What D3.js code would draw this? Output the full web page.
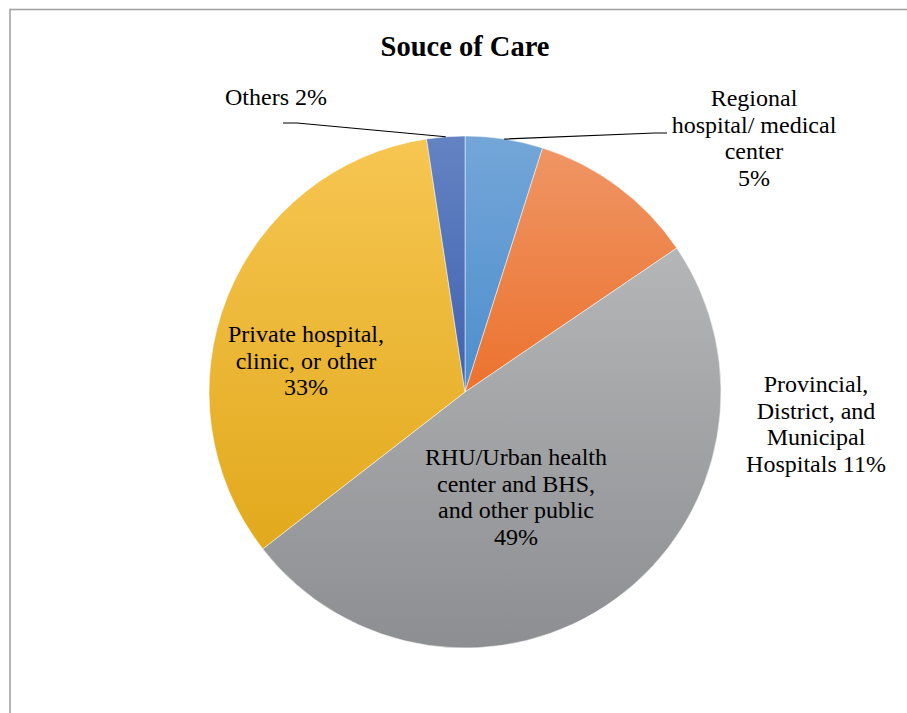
<!DOCTYPE html>
<html>
<head>
<meta charset="utf-8">
<script src="https://cdn.jsdelivr.net/npm/d3@7"></script>
<style>
  html, body { margin: 0; padding: 0; background: #ffffff; }
  svg { display: block; }
  text { font-family: "Liberation Serif", "Times New Roman", serif; fill: #000; }
</style>
</head>
<body>
<svg id="chart" width="907" height="713"></svg>
<script>
// ---- data ----
const categories = [
  "Regional hospital/ medical center",
  "Provincial, District, and Municipal Hospitals",
  "RHU/Urban health center and BHS, and other public",
  "Private hospital, clinic, or other",
  "Others"
];
const values = [4.9, 10.6, 49.0, 33.1, 2.4];
const percentLabels = ["5%", "11%", "49%", "33%", "2%"];
const labelLines = [
  ["Regional", "hospital/ medical", "center", "5%"],
  ["Provincial,", "District, and", "Municipal", "Hospitals 11%"],
  ["RHU/Urban health", "center and BHS,", "and other public", "49%"],
  ["Private hospital,", "clinic, or other", "33%"],
  ["Others 2%"]
];
const title = "Souce of Care";

// ---- styles / layout ----
const colorsTop    = ["#74a6d8", "#ef9564", "#b5b6b8", "#f7c652", "#6383c3"];
const colorsBottom = ["#4d8ecd", "#ec722e", "#8d8e91", "#e1a91c", "#4062af"];
const cx = 465, cy = 392, R = 256;
const fontSize = 24, lineH = 26.7;
// label block: first-line baseline position relative to pie center
const labelPos = [
  {dx: 289, dy: -286},
  {dx: 351, dy: 0},
  {dx: 51,  dy: 73},
  {dx: -159, dy: -50},
  {dx: -189, dy: -287}
];
// leader line elbows (relative to center)
const leaderElbows = [
  [{dx: 190, dy: -259}, {dx: 202, dy: -259}],
  null, null, null,
  [{dx: -168, dy: -269}, {dx: -182, dy: -269}]
];

const svg = d3.select("#chart");

// border
svg.append("rect")
  .attr("x", 10).attr("y", 9.5)
  .attr("width", 1000).attr("height", 1000)
  .attr("fill", "none").attr("stroke", "#a3a3a3").attr("stroke-width", 1.6);

// gradients
const defs = svg.append("defs");
values.forEach((v, i) => {
  const gr = defs.append("linearGradient")
    .attr("id", "grad" + i)
    .attr("x1", 0).attr("y1", 0).attr("x2", 0).attr("y2", 1);
  gr.append("stop").attr("offset", "0%").attr("stop-color", colorsTop[i]);
  gr.append("stop").attr("offset", "100%").attr("stop-color", colorsBottom[i]);
});

// title
svg.append("text")
  .attr("x", cx).attr("y", 56)
  .attr("text-anchor", "middle")
  .attr("font-weight", "bold")
  .attr("font-size", 28.5)
  .text(title);

const pie = d3.pie().sort(null).value(d => d);
const arcs = pie(values);
const arc = d3.arc().innerRadius(0).outerRadius(R);

const g = svg.append("g").attr("transform", `translate(${cx},${cy})`);

g.selectAll("path.slice")
  .data(arcs)
  .join("path")
  .attr("class", "slice")
  .attr("d", arc)
  .attr("fill", (d, i) => `url(#grad${i})`)
  .attr("stroke", "#ffffff")
  .attr("stroke-width", 0.5);

// leader lines
arcs.forEach((d, i) => {
  const el = leaderElbows[i];
  if (!el) return;
  const mid = (d.startAngle + d.endAngle) / 2;
  const p0 = [Math.sin(mid) * R, -Math.cos(mid) * R];
  const pts = [p0, [el[0].dx, el[0].dy], [el[1].dx, el[1].dy]];
  g.append("path")
    .attr("d", d3.line()(pts))
    .attr("fill", "none")
    .attr("stroke", "#000")
    .attr("stroke-width", 1.2);
});

// labels
labelLines.forEach((lines, i) => {
  const t = g.append("text")
    .attr("text-anchor", "middle")
    .attr("font-size", fontSize);
  lines.forEach((ln, k) => {
    t.append("tspan")
      .attr("x", labelPos[i].dx)
      .attr("y", labelPos[i].dy + k * lineH)
      .text(ln);
  });
});
</script>
</body>
</html>
